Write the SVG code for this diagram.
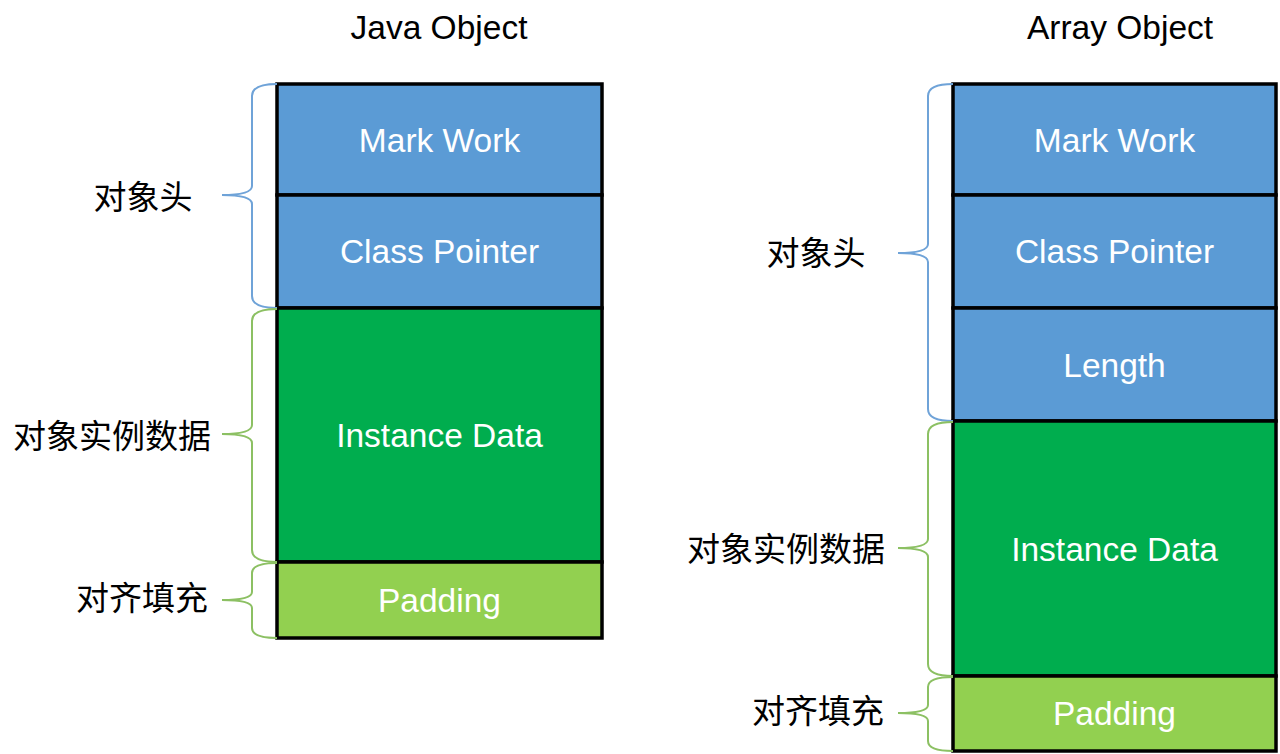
<svg xmlns="http://www.w3.org/2000/svg" width="1280" height="754" viewBox="0 0 1280 754">
<style>
.box{stroke:#000;stroke-width:3.5}
.blue{fill:#5b9bd5}
.green{fill:#00ad4e}
.lg{fill:#92d050}
.bl{font-family:"Liberation Sans",Arial,sans-serif;font-size:33.5px;fill:#fff;text-anchor:middle}
.title{font-family:"Liberation Sans",Arial,sans-serif;font-size:33.5px;fill:#000;text-anchor:middle}
.cn{font-family:"Noto Sans CJK SC",sans-serif;font-size:33px;fill:#000;text-anchor:middle}
.bb{fill:none;stroke:#6fa3d8;stroke-width:2}
.gb{fill:none;stroke:#8cc063;stroke-width:2}
</style>
<rect width="1280" height="754" fill="#fff"/>
<text class="title" x="439" y="39">Java Object</text>
<text class="title" x="1120" y="39">Array Object</text>
<g id="java-object">
<g id="j-mark"><rect class="box blue" x="277" y="84" width="325" height="111"/><text class="bl" x="439.5" y="152">Mark Work</text></g>
<g id="j-class"><rect class="box blue" x="277" y="195" width="325" height="113"/><text class="bl" x="439.5" y="263">Class Pointer</text></g>
<g id="j-inst"><rect class="box green" x="277" y="308" width="325" height="254"/><text class="bl" x="439.5" y="447">Instance Data</text></g>
<g id="j-pad"><rect class="box lg" x="277" y="562" width="325" height="76"/><text class="bl" x="439.5" y="612">Padding</text></g>
</g>
<g id="array-object">
<g id="a-mark"><rect class="box blue" x="953" y="84" width="323" height="111"/><text class="bl" x="1114.5" y="152">Mark Work</text></g>
<g id="a-class"><rect class="box blue" x="953" y="195" width="323" height="113"/><text class="bl" x="1114.5" y="263">Class Pointer</text></g>
<g id="a-len"><rect class="box blue" x="953" y="308" width="323" height="113"/><text class="bl" x="1114.5" y="377">Length</text></g>
<g id="a-inst"><rect class="box green" x="953" y="421" width="323" height="255"/><text class="bl" x="1114.5" y="561">Instance Data</text></g>
<g id="a-pad"><rect class="box lg" x="953" y="676" width="323" height="75"/><text class="bl" x="1114.5" y="725">Padding</text></g>
</g>
<g id="connectors">
<path class="bb" d="M277,84 Q252,84 252,96 L252,186 Q252,195 222,195 Q252,195 252,204 L252,296 Q252,308 277,308"/>
<path class="gb" d="M277,309 Q252,309 252,321 L252,425 Q252,434 222,434 Q252,434 252,443 L252,550 Q252,562 277,562"/>
<path class="gb" d="M277,563 Q252,563 252,573 L252,592 Q252,600 222,600 Q252,600 252,608 L252,628 Q252,638 277,638"/>
<path class="bb" d="M953,84 Q928,84 928,96 L928,244 Q928,253 898,253 Q928,253 928,262 L928,409 Q928,421 953,421"/>
<path class="gb" d="M953,422 Q928,422 928,434 L928,539 Q928,548 898,548 Q928,548 928,557 L928,664 Q928,676 953,676"/>
<path class="gb" d="M953,677 Q928,677 928,687 L928,705 Q928,713 898,713 Q928,713 928,721 L928,741 Q928,751 953,751"/>
</g>
<g id="labels">
<text class="cn" x="143" y="209">对象头</text>
<text class="cn" x="112" y="448">对象实例数据</text>
<text class="cn" x="142" y="610">对齐填充</text>
<text class="cn" x="816" y="265">对象头</text>
<text class="cn" x="786" y="561">对象实例数据</text>
<text class="cn" x="818" y="723">对齐填充</text>
</g>
</svg>
